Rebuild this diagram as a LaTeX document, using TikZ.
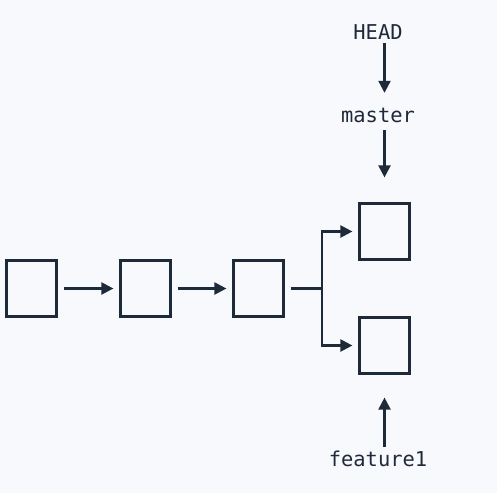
\documentclass[tikz,border=0pt]{standalone}
\usepackage{fontspec}
\setmonofont{DejaVu Sans Mono}
\usepackage{tikz}
\usetikzlibrary{shapes,arrows.meta}

\definecolor{ink}{HTML}{1E2A3A}
\definecolor{paper}{HTML}{F8F9FC}

\tikzset{
	commit/.style={draw=ink, line width=2.2bp, minimum width=50bp, minimum height=56bp, inner sep=0pt},
	ref/.style={text=ink, font=\ttfamily\fontsize{20.5}{24}\selectfont, inner sep=0pt, anchor=base, text height=15bp, text depth=0pt},
	conn/.style={draw=ink, line width=2.2bp},
	arr/.style={conn, -{Triangle[length=12bp,width=12bp]}}
}

\begin{document}
\begin{tikzpicture}[x=1bp,y=-1bp]
		\fill[paper] (0,0) rectangle (497,493);
		\useasboundingbox (0,0) rectangle (497,493);
		\node[commit] (c1) at (31.5,288.5) {};
		\node[commit] (c2) at (145.5,288.5) {};
		\node[commit] (c3) at (258.5,288.5) {};
		\node[commit] (top) at (384.5,231.5) {};
		\node[commit] (bot) at (384.5,345.5) {};
		\coordinate (fork) at (322,288.5);
		\node[ref] (head) at (378,40) {HEAD};
		\node[ref] (master) at (378,123) {master};
		\node[ref] (feat) at (378,466) {feature1};
		\draw[arr, shorten <=6bp, shorten >=6bp] (c1) -- (c2);
		\draw[arr, shorten <=6bp, shorten >=6bp] (c2) -- (c3);
		\draw[conn, shorten <=6bp] (c3) -- (fork);
		\draw[arr, shorten >=6bp] (fork) |- (top.west);
		\draw[arr, shorten >=6bp] (fork) |- (bot.west);
		\draw[arr, shorten <=3bp, shorten >=15bp] (head.south -| top) -- (master.north -| top);
		\draw[arr, shorten <=7bp, shorten >=25bp] (master.south -| top) -- (top.north);
		\draw[arr, shorten <=4bp, shorten >=23bp] (feat.north -| bot) -- (bot.south);
	\end{tikzpicture}
\end{document}
